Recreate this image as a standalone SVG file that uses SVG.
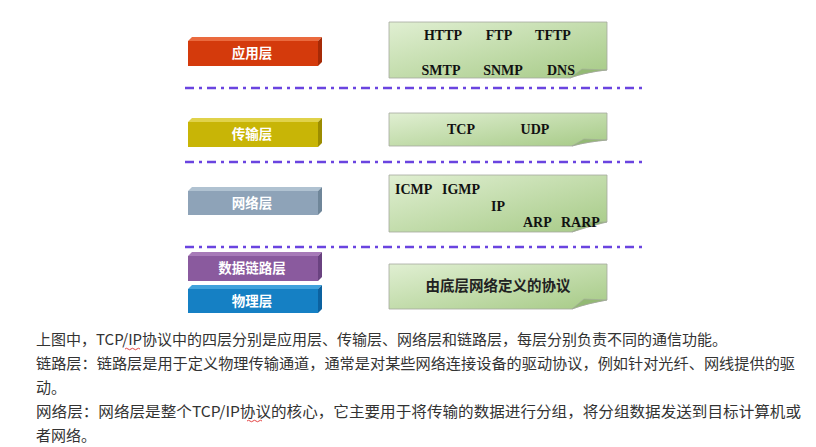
<svg xmlns="http://www.w3.org/2000/svg" width="816" height="447" viewBox="0 0 816 447">
<defs>
<linearGradient id="gb" x1="0" y1="0" x2="1" y2="1">
<stop offset="0" stop-color="#e0efd2"/>
<stop offset="1" stop-color="#a6ca86"/>
</linearGradient>
<style>
.box{fill:url(#gb);stroke:#a4a8a0;stroke-width:0.8}
.flap{fill:#93b974;stroke:#a4a8a0;stroke-width:0.6}
.sep{stroke:#6a44e0;stroke-width:2.5;stroke-dasharray:9 5 3 5;fill:none}
.lbl{font-family:"Noto Sans CJK SC",sans-serif;font-weight:bold;font-size:13.5px;fill:#ffffff;text-anchor:middle}
.en{font-family:"Liberation Serif",serif;font-weight:bold;font-size:14px;fill:#111111;text-anchor:middle}
.es{font-family:"Liberation Serif",serif;font-weight:bold;font-size:14px;fill:#111111}
.cn{font-family:"Noto Sans CJK SC",sans-serif;font-weight:bold;font-size:14.5px;fill:#222222;text-anchor:middle}
.body{font-family:"Noto Sans CJK SC","Liberation Sans",sans-serif;font-size:15px;fill:#333333}
.sq{stroke:#e03030;stroke-width:0.9;fill:none}
</style>
</defs>
<rect width="816" height="447" fill="#ffffff"/>

<g id="connectors">
<line class="sep" x1="185" y1="88" x2="642" y2="88"/>
<line class="sep" x1="185" y1="162" x2="642" y2="162"/>
<line class="sep" x1="185" y1="247" x2="642" y2="247"/>
</g>

<g id="layer-app">
<polygon points="188,41 192,37 322,37 318,41" fill="#ea6a3e"/>
<polygon points="318,41 322,37 322,62 318,66" fill="#a62a06"/>
<rect x="188" y="41" width="130" height="25" fill="#d43a0c"/>
<text class="lbl" x="252" y="58">应用层</text>
</g>
<g id="layer-transport">
<polygon points="188,122 192,118 322,118 318,122" fill="#e0d24a"/>
<polygon points="318,122 322,118 322,143 318,147" fill="#9c8c00"/>
<rect x="188" y="122" width="130" height="25" fill="#c8b506"/>
<text class="lbl" x="252" y="139">传输层</text>
</g>
<g id="layer-network">
<polygon points="188,191 192,187 322,187 318,191" fill="#b0c2d1"/>
<polygon points="318,191 322,187 322,211 318,215" fill="#6f8699"/>
<rect x="188" y="191" width="130" height="24" fill="#8ea3b8"/>
<text class="lbl" x="252" y="207.5">网络层</text>
</g>
<g id="layer-datalink">
<polygon points="188,256 192,252 322,252 318,256" fill="#a77ab8"/>
<polygon points="318,256 322,252 322,277 318,281" fill="#6a4280"/>
<rect x="188" y="256" width="130" height="25" fill="#8a5a9e"/>
<text class="lbl" x="252" y="273">数据链路层</text>
</g>
<g id="layer-physical">
<polygon points="188,289 192,285 322,285 318,289" fill="#40a2dc"/>
<polygon points="318,289 322,285 322,309 318,313" fill="#0c62a0"/>
<rect x="188" y="289" width="130" height="24" fill="#1580c4"/>
<text class="lbl" x="252" y="305.5">物理层</text>
</g>

<g id="proto-app">
<path class="box" d="M389,22 H607 V70 C596,71 580,74 570,78 H389 Z"/>
<path class="flap" d="M570,78 C580,74 596,71 607,70 L582,69 Z"/>
<text class="en" x="443" y="40">HTTP</text>
<text class="en" x="499" y="40">FTP</text>
<text class="en" x="553" y="40">TFTP</text>
<text class="en" x="441" y="75">SMTP</text>
<text class="en" x="503" y="75">SNMP</text>
<text class="en" x="561" y="75">DNS</text>
</g>
<g id="proto-transport">
<path class="box" d="M389,113 H607 V140 C596,141 582,143 572,146 H389 Z"/>
<path class="flap" d="M572,146 C582,143 596,141 607,140 L584,139 Z"/>
<text class="en" x="461" y="134">TCP</text>
<text class="en" x="535" y="134">UDP</text>
</g>
<g id="proto-network">
<path class="box" d="M389,175 H607 V222 C598,224 584,228 572,232 H389 Z"/>
<path class="flap" d="M572,232 C584,228 598,224 607,222 L586,222 Z"/>
<text class="es" x="395" y="194">ICMP</text>
<text class="es" x="442" y="194">IGMP</text>
<text class="es" x="491" y="211">IP</text>
<text class="es" x="523" y="227">ARP</text>
<text class="es" x="561" y="227">RARP</text>
</g>
<g id="proto-link">
<path class="box" d="M389,264 H607 V300 C596,302 582,305 572,309 H389 Z"/>
<path class="flap" d="M572,309 C582,305 596,302 607,300 L584,299 Z"/>
<text class="cn" x="498" y="291">由底层网络定义的协议</text>
</g>

<g id="description">
<text class="body" x="36" y="345" textLength="691" lengthAdjust="spacingAndGlyphs">上图中，TCP/IP协议中的四层分别是应用层、传输层、网络层和链路层，每层分别负责不同的通信功能。</text>
<text class="body" x="36" y="369" textLength="759" lengthAdjust="spacingAndGlyphs">链路层：链路层是用于定义物理传输通道，通常是对某些网络连接设备的驱动协议，例如针对光纤、网线提供的驱</text>
<text class="body" x="36" y="393">动。</text>
<text class="body" x="36" y="417" textLength="765" lengthAdjust="spacingAndGlyphs">网络层：网络层是整个TCP/IP协议的核心，它主要用于将传输的数据进行分组，将分组数据发送到目标计算机或</text>
<text class="body" x="36" y="441">者网络。</text>
<path class="sq" d="M125,349 q1.5,-1.5 3,0 t3,0 t3,0 t3,0 t3,0"/>
<path class="sq" d="M247,421 q1.5,-1.5 3,0 t3,0 t3,0 t3,0 t3,0"/>
</g>
</svg>
